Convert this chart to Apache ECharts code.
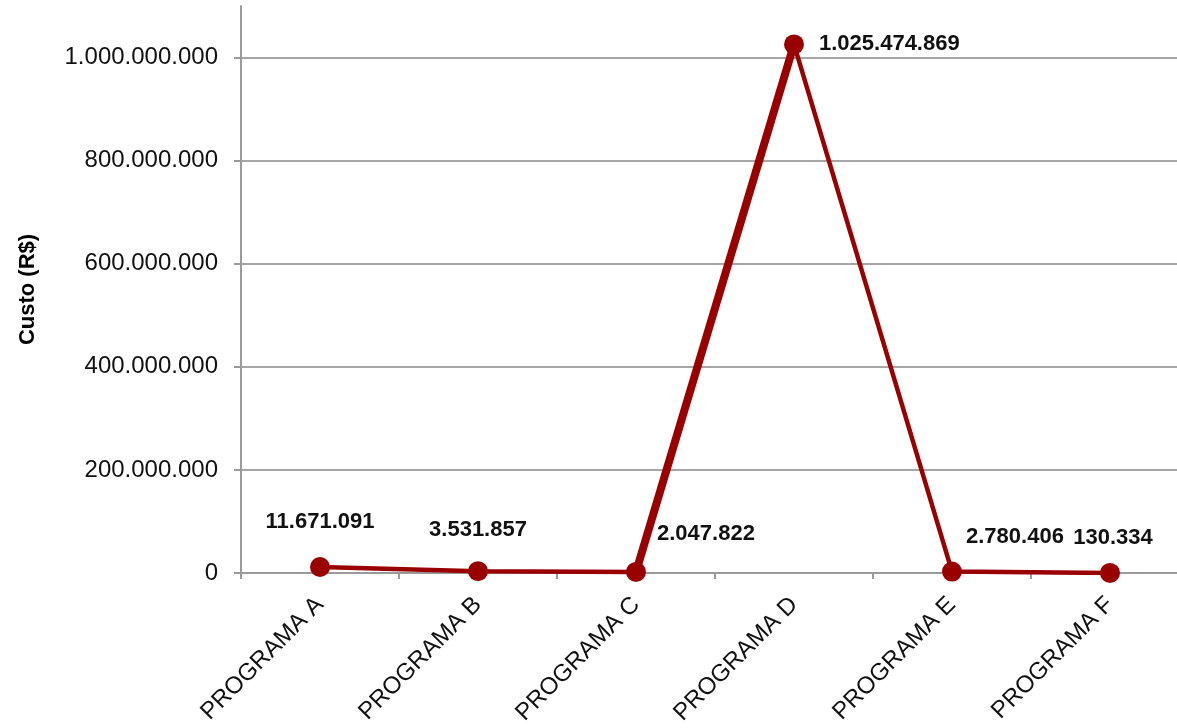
<!DOCTYPE html>
<html>
<head>
<meta charset="utf-8">
<script src="https://cdn.jsdelivr.net/npm/echarts@6/dist/echarts.min.js"></script>
<style>
html,body{margin:0;padding:0;background:#fff;}
#chart{width:1177px;height:728px;}
</style>
</head>
<body>
<div id="chart"></div>
<script>
const categories = ['PROGRAMA A','PROGRAMA B','PROGRAMA C','PROGRAMA D','PROGRAMA E','PROGRAMA F'];
const values = [11671091, 3531857, 2047822, 1025474869, 2780406, 130334];
const yAxisName = 'Custo (R$)';

const RED = '#990000';
const FONT = 'Liberation Sans, Arial, sans-serif';

function fmt(v){
  return String(Math.round(v)).replace(/\B(?=(\d{3})+(?!\d))/g, '.');
}

const labelCfg = [
  {position:'top', distance:24},
  {position:'top', distance:20},
  {position:'right', distance:11, offset:[0,-38]},
  {position:'right', distance:15},
  {position:'right', distance:4, offset:[0,-35]},
  {position:'top', distance:14, offset:[3,0]}
];

const mainData = values.map((v,i)=>({
  value:v,
  label:Object.assign({show:true}, labelCfg[i])
}));
const thickData = values.map((v,i)=> (i===2||i===3) ? v : null);

const chart = echarts.init(document.getElementById('chart'), null, {renderer:'canvas'});
chart.setOption({
  animation:false,
  backgroundColor:'#fff',
  grid:{left:241, width:948, top:6, bottom:155, containLabel:false, outerBoundsMode:'none'},
  xAxis:{
    type:'category',
    data:categories,
    boundaryGap:true,
    axisLine:{lineStyle:{color:'#9a9a9a', width:2}},
    axisTick:{show:true, length:6, lineStyle:{color:'#9a9a9a', width:2}},
    axisLabel:{rotate:45, fontSize:24, fontFamily:FONT, color:'#111', margin:28, interval:0},
    splitLine:{show:false}
  },
  yAxis:{
    type:'value',
    min:0, max:1100000000, interval:200000000,
    name:yAxisName,
    nameLocation:'middle',
    nameGap:202,
    nameTextStyle:{fontSize:22, fontWeight:'bold', fontFamily:FONT, color:'#000'},
    axisLine:{show:true, lineStyle:{color:'#9a9a9a', width:2}},
    axisTick:{show:true, length:7, lineStyle:{color:'#9a9a9a', width:2}},
    axisLabel:{fontSize:24, fontFamily:FONT, color:'#111', margin:23, showMaxLabel:false, formatter:fmt},
    splitLine:{show:true, showMaxLine:false, lineStyle:{color:'#a6a6a6', width:2}}
  },
  series:[
    {
      type:'line',
      data:thickData,
      symbol:'none',
      connectNulls:false,
      lineStyle:{color:RED, width:8},
      z:2,
      silent:true
    },
    {
      type:'line',
      data:mainData,
      symbol:'circle',
      symbolSize:20,
      itemStyle:{color:RED},
      lineStyle:{color:RED, width:4.5},
      label:{show:true, fontSize:22, fontWeight:'bold', fontFamily:FONT, color:'#111', formatter:p=>fmt(p.value)},
      z:3
    }
  ]
});
</script>
</body>
</html>
